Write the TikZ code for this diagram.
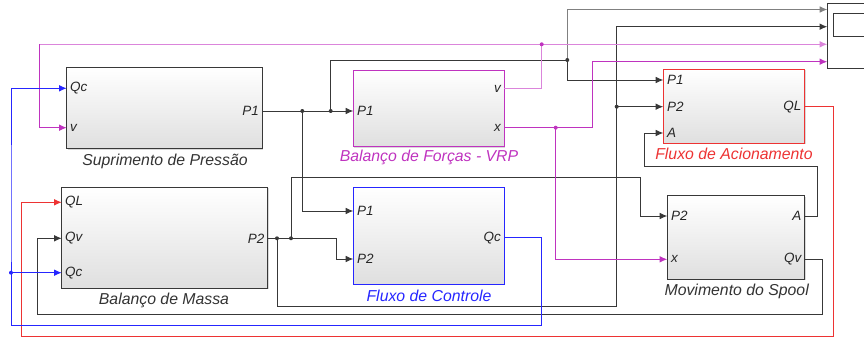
\documentclass[tikz,border=0pt]{standalone}
\usepackage{fontspec}
\setmainfont{Liberation Sans}
\usetikzlibrary{arrows.meta,shadows}

\definecolor{linha}{gray}{0.22}
\definecolor{azul}{rgb}{0.15,0.15,1}
\definecolor{vermelho}{rgb}{0.93,0.2,0.2}
\definecolor{roxo}{rgb}{0.75,0.2,0.75}
\definecolor{rosa}{rgb}{0.86,0.52,0.86}

\begin{document}
\begin{tikzpicture}[x=0.03cm,y=-0.03cm,
		bloco/.style={draw=linha,line width=0.8pt,top color=white,bottom color=gray!25,
			drop shadow={opacity=0.3,shadow xshift=0.8pt,shadow yshift=-0.8pt}},
		porta/.style={font=\fontsize{11.5}{13}\selectfont\itshape,text=black!85,inner sep=0pt},
		titulo/.style={font=\fontsize{13.5}{15}\selectfont\itshape,text=black!80,inner sep=0pt},
		lig/.style={line width=0.85pt},
		seta/.style={-{Latex[length=2.3mm,width=2mm]}}]
		
		\clip (0,0) rectangle (864,338);
		
		% Blocos
		\node[bloco,minimum width=5.868cm,minimum height=2.43cm] (sup) at (164.5,108.2) {};
		\node[bloco,minimum width=6.18cm,minimum height=3.03cm] (mas) at (164.7,237.8) {};
		\node[bloco,draw=roxo,minimum width=4.53cm,minimum height=2.28cm] (for) at (428.8,108.7) {};
		\node[bloco,draw=azul,minimum width=4.53cm,minimum height=2.9cm] (con) at (428.8,235.7) {};
		\node[bloco,draw=vermelho,minimum width=4.242cm,minimum height=2.22cm] (aci) at (734,106.3) {};
		\node[bloco,minimum width=4.122cm,minimum height=2.508cm] (mov) at (736,237.5) {};
		\node[bloco,top color=white,bottom color=white,minimum width=2.18cm,minimum height=1.95cm] (osc) at (863.65,35.8) {};
		\node[draw=linha,line width=0.8pt,minimum width=1.82cm,minimum height=0.68cm] (tela) at (863.65,24.65) {};
		
		% Titulos
		\node[titulo] (tsup) at (165,161.7) {Suprimento de Pressão};
		\node[titulo] (tmas) at (164,300.7) {Balanço de Massa};
		\node[titulo,text=roxo] (tfor) at (429,157.7) {Balanço de Forças - VRP};
		\node[titulo,text=azul] (tcon) at (429,296) {Fluxo de Controle};
		\node[titulo,text=vermelho] (taci) at (734,154.3) {Fluxo de Acionamento};
		\node[titulo] (tmov) at (736.7,291.7) {Movimento do Spool};
		
		% Portas
		\coordinate (supQc) at (66.7,88.3);
		\coordinate (supv) at (66.7,127.7);
		\coordinate (supP1) at (262.3,111);
		\coordinate (masQL) at (61.7,202.3);
		\coordinate (masQv) at (61.7,238.3);
		\coordinate (masQc) at (61.7,272.7);
		\coordinate (masP2) at (267.7,238.3);
		\coordinate (forP1) at (353.3,111);
		\coordinate (forv) at (504.3,88.7);
		\coordinate (forx) at (504.3,127.7);
		\coordinate (conP1) at (353.3,211);
		\coordinate (conP2) at (353.3,259);
		\coordinate (conQc) at (504.3,237.7);
		\coordinate (aciP1) at (663.3,80);
		\coordinate (aciP2) at (663.3,106.7);
		\coordinate (aciA) at (663.3,133);
		\coordinate (aciQL) at (804.7,106.7);
		\coordinate (movP2) at (667.3,216);
		\coordinate (movx) at (667.3,259.3);
		\coordinate (movA) at (804.7,216);
		\coordinate (movQv) at (804.7,259.3);
		\coordinate (osc1) at (827.3,9.5);
		\coordinate (osc2) at (827.3,26.7);
		\coordinate (osc3) at (827.3,44.3);
		\coordinate (osc4) at (827.3,61.7);
		
		\node[porta,anchor=west] (lsupQc) at (70,88.3) {Qc};
		\node[porta,anchor=west] (lsupv) at (70,127.7) {v};
		\node[porta,anchor=east] (lsupP1) at (259,111) {P1};
		\node[porta,anchor=west] (lmasQL) at (65,202.3) {QL};
		\node[porta,anchor=west] (lmasQv) at (65,238.3) {Qv};
		\node[porta,anchor=west] (lmasQc) at (65,272.7) {Qc};
		\node[porta,anchor=east] (lmasP2) at (264.5,238.3) {P2};
		\node[porta,anchor=west] (lforP1) at (357,111) {P1};
		\node[porta,anchor=east] (lforv) at (501,88.7) {v};
		\node[porta,anchor=east] (lforx) at (501,127.7) {x};
		\node[porta,anchor=west] (lconP1) at (357,211) {P1};
		\node[porta,anchor=west] (lconP2) at (357,259) {P2};
		\node[porta,anchor=east] (lconQc) at (501,237.7) {Qc};
		\node[porta,anchor=west] (laciP1) at (667,80) {P1};
		\node[porta,anchor=west] (laciP2) at (667,106.7) {P2};
		\node[porta,anchor=west] (laciA) at (667,133) {A};
		\node[porta,anchor=east] (laciQL) at (801.5,106.7) {QL};
		\node[porta,anchor=west] (lmovP2) at (671,216) {P2};
		\node[porta,anchor=west] (lmovx) at (671,259.3) {x};
		\node[porta,anchor=east] (lmovA) at (801.5,216) {A};
		\node[porta,anchor=east] (lmovQv) at (801.5,259.3) {Qv};
		
		% Derivacoes
		\coordinate (j1) at (302.3,111);
		\coordinate (j2) at (330.7,111);
		\coordinate (j3) at (567.3,60);
		\coordinate (j4) at (541.7,44.3);
		\coordinate (j5) at (555.7,127.7);
		\coordinate (j6) at (277,238.3);
		\coordinate (j7) at (291,238.3);
		\coordinate (j8) at (616.7,106.7);
		\coordinate (j9) at (11,272.7);
		
		% Ligacoes P1
		\draw[lig,linha,seta] (supP1) -- (forP1);
		\draw[lig,linha,seta] (j1) |- (conP1);
		\draw[lig,linha] (j2) |- (j3);
		\draw[lig,gray,seta] (j3) |- (osc1);
		\draw[lig,linha,seta] (j3) |- (aciP1);
		
		% Ligacoes P2
		\draw[lig,linha,seta] (masP2) -- (336.7,238.3) |- (conP2);
		\draw[lig,linha] (j6) -- (277,306.7) -| (j8);
		\draw[lig,linha,seta] (j8) |- (osc2);
		\draw[lig,linha,seta] (j8) -- (aciP2);
		\draw[lig,linha] (j7) -- (291,177) -| (640.7,200);
		\draw[lig,linha,seta] (640.7,200) |- (movP2);
		
		% Ligacoes v e x
		\draw[lig,rosa] (forv) -| (j4);
		\draw[lig,rosa,seta] (j4) -- (osc3);
		\draw[lig,rosa] (j4) -- (39.3,44.3);
		\draw[lig,roxo,seta] (39.3,44.3) |- (supv);
		\draw[lig,roxo] (forx) -- (592.3,127.7);
		\draw[lig,roxo,seta] (592.3,127.7) |- (osc4);
		\draw[lig,roxo,seta] (j5) |- (movx);
		
		% Ligacoes de vazao
		\draw[lig,vermelho,seta] (aciQL) -| (833.3,336.7) -| (21.3,250) |- (masQL);
		\draw[lig,linha,seta] (movQv) -| (822.3,314.3) -| (37.7,280) |- (masQv);
		\draw[lig,draw=azul,seta] (conQc) -| (541.7,325.7) -| (11,200) |- (supQc);
		\draw[lig,draw=azul,seta] (j9) -- (masQc);
		\draw[lig,linha,seta] (movA) -| (817.3,166.7) -| (644.3,150) |- (aciA);
		
		% Pontos
		\fill[linha] (j1) circle (1.7pt);
		\fill[linha] (j2) circle (1.7pt);
		\fill[linha] (j3) circle (1.7pt);
		\fill[roxo] (j4) circle (1.7pt);
		\fill[roxo] (j5) circle (1.7pt);
		\fill[linha] (j6) circle (1.7pt);
		\fill[linha] (j7) circle (1.7pt);
		\fill[linha] (j8) circle (1.7pt);
		\fill[azul] (j9) circle (1.7pt);
		
	\end{tikzpicture}
\end{document}
